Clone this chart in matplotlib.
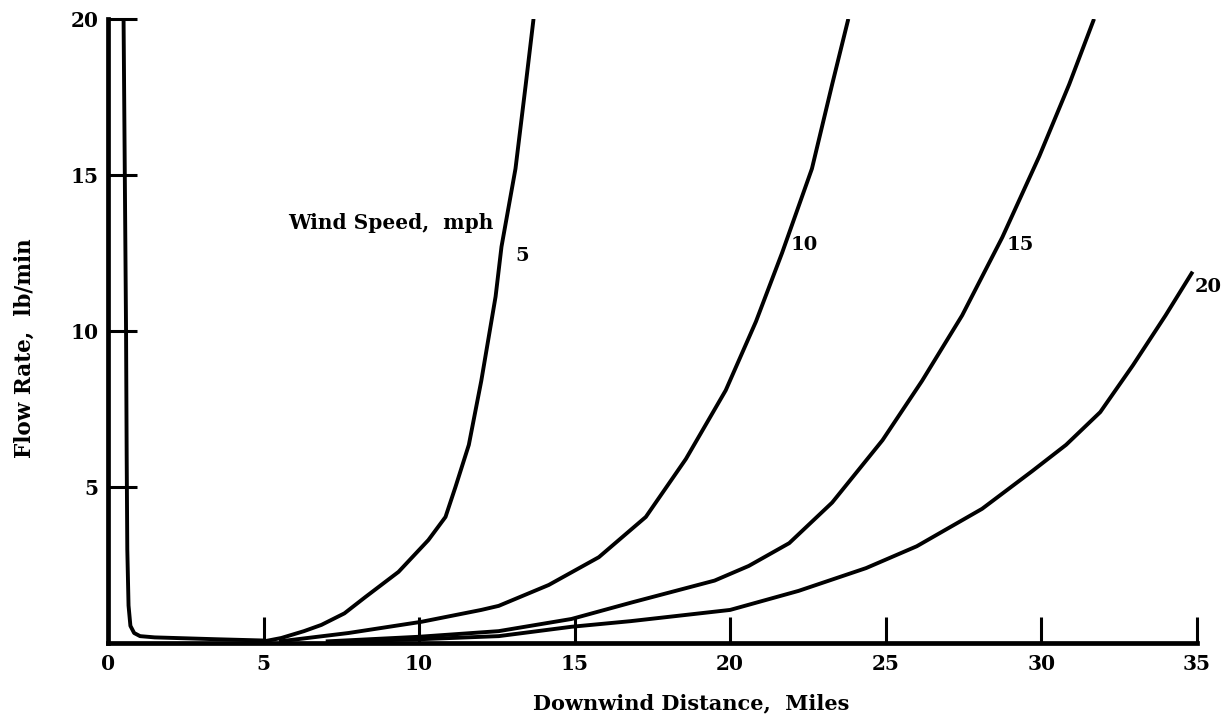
import matplotlib.pyplot as plt

# Downwind distance (miles) vs. flow rate (lb/min), one curve per wind speed
near_x = [0.50, 0.54, 0.58, 0.60, 0.62, 0.66, 0.72, 0.84, 1.03, 1.5, 2.5, 3.5, 5.0]
near_y = [20.0, 15.0, 10.0, 6.0, 3.0, 1.2, 0.55, 0.32, 0.22, 0.18, 0.15, 0.12, 0.08]

mph5_x = [5.0, 5.57, 6.3, 6.86, 7.6, 8.27, 9.34, 10.3, 10.85, 11.17, 11.6, 12.0, 12.46, 12.65, 13.1, 13.43, 13.68]
mph5_y = [0.05, 0.16, 0.38, 0.58, 0.95, 1.47, 2.28, 3.3, 4.04, 5.0, 6.35, 8.4, 11.1, 12.7, 15.2, 17.9, 20.0]

mph10_x = [5.5, 7.73, 10.08, 12.0, 12.56, 14.17, 15.78, 17.29, 18.58, 19.86, 20.83, 21.67, 22.63, 23.28, 23.8]
mph10_y = [0.05, 0.32, 0.68, 1.06, 1.19, 1.86, 2.75, 4.04, 5.9, 8.1, 10.3, 12.5, 15.2, 17.9, 20.0]

mph15_x = [7.0, 10.0, 12.56, 14.9, 16.84, 19.5, 20.6, 21.9, 23.28, 24.9, 26.17, 27.46, 28.75, 29.94, 30.9, 31.7]
mph15_y = [0.05, 0.2, 0.38, 0.77, 1.3, 2.0, 2.47, 3.2, 4.5, 6.5, 8.4, 10.5, 13.0, 15.6, 17.9, 20.0]

mph20_x = [7.5, 10.0, 12.56, 14.9, 16.8, 20.0, 22.2, 24.37, 26.0, 28.1, 29.7, 30.8, 31.9, 32.95, 34.0, 34.87]
mph20_y = [0.05, 0.12, 0.22, 0.52, 0.7, 1.06, 1.67, 2.4, 3.1, 4.3, 5.5, 6.35, 7.4, 8.9, 10.5, 11.9]

speed_labels = ["5", "10", "15", "20"]
label_x = [13.1, 21.95, 28.9, 34.95]
label_y = [12.4, 12.75, 12.75, 11.4]

x_ticks = [0, 5, 10, 15, 20, 25, 30, 35]
y_ticks = [5, 10, 15, 20]

font = dict(family="DejaVu Serif", weight="bold")

fig = plt.figure(figsize=(12.26, 7.19), dpi=100)
ax = fig.add_axes([0.0881, 0.1057, 0.888, 0.868])

lw = 2.8
ax.plot(near_x, near_y, color="black", lw=lw, solid_capstyle="butt")
for xs, ys in [(mph5_x, mph5_y), (mph10_x, mph10_y), (mph15_x, mph15_y), (mph20_x, mph20_y)]:
    ax.plot(xs, ys, color="black", lw=lw, solid_capstyle="butt")

for txt, lx, ly in zip(speed_labels, label_x, label_y):
    ax.text(lx, ly, txt, ha="left", va="center", fontsize=14, **font)
ax.text(12.4, 13.45, "Wind Speed,  mph", ha="right", va="center", fontsize=14.5, **font)

ax.set_xlim(0, 35)
ax.set_ylim(0, 20)
ax.set_xticks(x_ticks)
ax.set_yticks(y_ticks)
ax.set_xticklabels([str(v) for v in x_ticks], fontsize=14.5, **font)
ax.set_yticklabels([str(v) for v in y_ticks], fontsize=14.5, **font)
ax.tick_params(axis="x", direction="in", length=19, width=2.2, pad=8)
ax.tick_params(axis="y", direction="in", length=21, width=2.2, pad=7)

for side in ["top", "right"]:
    ax.spines[side].set_visible(False)
for side in ["left", "bottom"]:
    ax.spines[side].set_linewidth(3.4)

ax.set_xlabel("Downwind Distance,  Miles", fontsize=15, va="center", **font)
ax.set_ylabel("Flow Rate,  lb/min", fontsize=15.5, va="center", **font)
ax.xaxis.set_label_coords(0.536, -0.096)
ax.yaxis.set_label_coords(-0.076, 0.473)

fig.savefig("out.png", dpi=100)
